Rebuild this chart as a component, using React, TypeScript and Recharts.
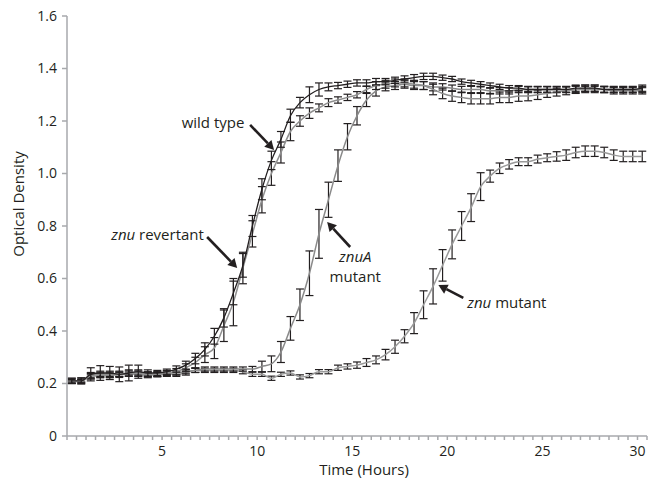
import React from 'react';
import { LineChart, Line, XAxis, YAxis, ErrorBar, ReferenceLine, ReferenceDot } from 'recharts';

const times = [0.25, 0.75, 1.25, 1.75, 2.25, 2.75, 3.25, 3.75, 4.25, 4.75, 5.25, 5.75, 6.25, 6.75, 7.25, 7.75, 8.25, 8.75, 9.25, 9.75, 10.25, 10.75, 11.25, 11.75, 12.25, 12.75, 13.25, 13.75, 14.25, 14.75, 15.25, 15.75, 16.25, 16.75, 17.25, 17.75, 18.25, 18.75, 19.25, 19.75, 20.25, 20.75, 21.25, 21.75, 22.25, 22.75, 23.25, 23.75, 24.25, 24.75, 25.25, 25.75, 26.25, 26.75, 27.25, 27.75, 28.25, 28.75, 29.25, 29.75, 30.25];

const wildType = [0.21, 0.21, 0.235, 0.24, 0.24, 0.235, 0.24, 0.245, 0.24, 0.24, 0.245, 0.255, 0.27, 0.295, 0.33, 0.38, 0.45, 0.545, 0.65, 0.8, 0.94, 1.05, 1.13, 1.22, 1.27, 1.3, 1.32, 1.33, 1.335, 1.34, 1.345, 1.345, 1.35, 1.35, 1.355, 1.36, 1.365, 1.37, 1.37, 1.365, 1.36, 1.35, 1.345, 1.34, 1.335, 1.33, 1.325, 1.325, 1.32, 1.32, 1.32, 1.32, 1.32, 1.325, 1.325, 1.325, 1.32, 1.32, 1.32, 1.32, 1.325];
const wildTypeErr = [0.01, 0.012, 0.025, 0.028, 0.025, 0.028, 0.03, 0.025, 0.012, 0.01, 0.01, 0.012, 0.015, 0.02, 0.025, 0.03, 0.035, 0.045, 0.045, 0.04, 0.04, 0.035, 0.03, 0.025, 0.02, 0.03, 0.025, 0.015, 0.012, 0.012, 0.012, 0.012, 0.012, 0.012, 0.012, 0.012, 0.012, 0.012, 0.012, 0.01, 0.01, 0.01, 0.01, 0.01, 0.01, 0.01, 0.01, 0.01, 0.01, 0.01, 0.01, 0.01, 0.01, 0.012, 0.012, 0.012, 0.01, 0.01, 0.01, 0.01, 0.012];

const revertant = [0.21, 0.21, 0.23, 0.235, 0.235, 0.235, 0.24, 0.24, 0.235, 0.235, 0.24, 0.245, 0.26, 0.28, 0.31, 0.335, 0.42, 0.51, 0.64, 0.77, 0.9, 1.0, 1.08, 1.16, 1.2, 1.23, 1.25, 1.27, 1.28, 1.29, 1.3, 1.32, 1.335, 1.34, 1.345, 1.345, 1.34, 1.335, 1.32, 1.305, 1.295, 1.29, 1.285, 1.285, 1.285, 1.29, 1.29, 1.295, 1.295, 1.3, 1.305, 1.31, 1.315, 1.32, 1.32, 1.32, 1.32, 1.315, 1.315, 1.315, 1.315];
const revertantErr = [0.01, 0.01, 0.012, 0.012, 0.012, 0.012, 0.012, 0.012, 0.01, 0.01, 0.01, 0.012, 0.015, 0.02, 0.03, 0.04, 0.06, 0.09, 0.06, 0.05, 0.05, 0.045, 0.04, 0.035, 0.02, 0.02, 0.015, 0.015, 0.012, 0.012, 0.012, 0.012, 0.015, 0.015, 0.015, 0.015, 0.015, 0.015, 0.02, 0.02, 0.02, 0.02, 0.02, 0.02, 0.02, 0.02, 0.02, 0.02, 0.018, 0.018, 0.015, 0.015, 0.015, 0.015, 0.012, 0.012, 0.012, 0.012, 0.012, 0.012, 0.012];

const znuAMutant = [0.21, 0.21, 0.23, 0.235, 0.235, 0.235, 0.24, 0.24, 0.235, 0.235, 0.24, 0.24, 0.245, 0.25, 0.255, 0.255, 0.255, 0.255, 0.255, 0.255, 0.265, 0.275, 0.32, 0.41, 0.5, 0.62, 0.77, 0.9, 1.03, 1.14, 1.22, 1.28, 1.315, 1.33, 1.335, 1.34, 1.335, 1.335, 1.33, 1.33, 1.325, 1.32, 1.32, 1.32, 1.315, 1.315, 1.315, 1.32, 1.32, 1.32, 1.32, 1.32, 1.32, 1.32, 1.325, 1.325, 1.32, 1.32, 1.32, 1.32, 1.32];
const znuAMutantErr = [0.005, 0.005, 0.008, 0.008, 0.008, 0.008, 0.008, 0.008, 0.008, 0.008, 0.008, 0.008, 0.008, 0.008, 0.008, 0.008, 0.008, 0.008, 0.008, 0.01, 0.02, 0.03, 0.04, 0.045, 0.06, 0.085, 0.093, 0.067, 0.06, 0.05, 0.035, 0.025, 0.02, 0.015, 0.015, 0.015, 0.015, 0.015, 0.015, 0.012, 0.012, 0.012, 0.012, 0.012, 0.012, 0.012, 0.012, 0.012, 0.012, 0.012, 0.012, 0.012, 0.012, 0.012, 0.012, 0.012, 0.012, 0.012, 0.012, 0.012, 0.012];

const znuMutant = [0.205, 0.21, 0.225, 0.23, 0.23, 0.235, 0.235, 0.235, 0.23, 0.235, 0.235, 0.235, 0.24, 0.25, 0.25, 0.25, 0.25, 0.25, 0.245, 0.235, 0.235, 0.22, 0.235, 0.24, 0.225, 0.23, 0.245, 0.245, 0.26, 0.265, 0.27, 0.28, 0.29, 0.31, 0.34, 0.38, 0.43, 0.5, 0.57, 0.65, 0.73, 0.8, 0.87, 0.95, 0.99, 1.02, 1.035, 1.045, 1.045, 1.055, 1.06, 1.065, 1.07, 1.08, 1.085, 1.085, 1.08, 1.07, 1.065, 1.065, 1.065];
const znuMutantErr = [0.005, 0.005, 0.008, 0.008, 0.008, 0.008, 0.008, 0.008, 0.008, 0.008, 0.008, 0.008, 0.008, 0.008, 0.008, 0.008, 0.008, 0.008, 0.008, 0.008, 0.008, 0.008, 0.008, 0.008, 0.008, 0.008, 0.008, 0.008, 0.01, 0.01, 0.012, 0.015, 0.015, 0.02, 0.025, 0.025, 0.04, 0.053, 0.067, 0.06, 0.055, 0.055, 0.053, 0.053, 0.023, 0.02, 0.018, 0.015, 0.015, 0.015, 0.015, 0.018, 0.02, 0.02, 0.02, 0.02, 0.02, 0.02, 0.02, 0.02, 0.02];

const yTicks = [0, 0.2, 0.4, 0.6, 0.8, 1.0, 1.2, 1.4, 1.6];
const xMajorLabels = [5, 10, 15, 20, 25, 30];
const xTicks = Array.from({ length: 62 }, (_, i) => i * 0.5);

const data = times.map((t, i) => ({
  t,
  wt: wildType[i], wtErr: wildTypeErr[i],
  rev: revertant[i], revErr: revertantErr[i],
  znuA: znuAMutant[i], znuAErr: znuAMutantErr[i],
  znu: znuMutant[i], znuErr: znuMutantErr[i],
}));

const FONT = '"Open Sans", "DejaVu Sans", sans-serif';
const TEXT = '#231f20';
const AXIS = '#a7a9ac';

const arrowShape = (props: any) => {
  const { x1, y1, x2, y2 } = props;
  const ang = Math.atan2(y2 - y1, x2 - x1);
  const L = 9, W = 5;
  const bx = x2 - L * Math.cos(ang), by = y2 - L * Math.sin(ang);
  const px = -Math.sin(ang), py = Math.cos(ang);
  return (
    <g>
      <line x1={x1} y1={y1} x2={bx} y2={by} stroke={TEXT} strokeWidth={2.6} />
      <polygon points={`${x2},${y2} ${bx + px * W},${by + py * W} ${bx - px * W},${by - py * W}`} fill={TEXT} />
    </g>
  );
};

const textShape = (parts: { s: string; italic?: boolean }[], anchor: string) => (props: any) => (
  <text x={props.cx} y={props.cy} dy="0.35em" textAnchor={anchor} fontFamily={FONT} fontSize={15} fill={TEXT}>
    {parts.map((p, i) => (
      <tspan key={i} fontStyle={p.italic ? 'italic' : 'normal'}>{p.s}</tspan>
    ))}
  </text>
);

const annotations = [
  { t: 7.68, v: 1.195, parts: [{ s: 'wild type' }], anchor: 'middle' },
  { t: 7.2, v: 0.766, parts: [{ s: 'znu', italic: true }, { s: ' revertant' }], anchor: 'end' },
  { t: 15.16, v: 0.682, parts: [{ s: 'znuA', italic: true }], anchor: 'middle' },
  { t: 15.16, v: 0.606, parts: [{ s: 'mutant' }], anchor: 'middle' },
  { t: 21.05, v: 0.507, parts: [{ s: 'znu', italic: true }, { s: ' mutant' }], anchor: 'start' },
];

const arrows = [
  { from: { x: 9.63, y: 1.185 }, to: { x: 10.89, y: 1.09 } },
  { from: { x: 7.37, y: 0.758 }, to: { x: 8.95, y: 0.64 } },
  { from: { x: 14.89, y: 0.72 }, to: { x: 13.68, y: 0.815 } },
  { from: { x: 20.84, y: 0.526 }, to: { x: 19.53, y: 0.575 } },
];

const errStyle = { stroke: '#231f20', strokeWidth: 1.2 };

export default function App() {
  return (
    <div style={{ position: 'absolute', left: 0, top: 0, width: 648, height: 481, background: '#fff' }}>
      <LineChart width={648} height={481} data={data} margin={{ top: 16, right: 1, bottom: 0, left: 0 }}>
        <XAxis
          dataKey="t"
          type="number"
          domain={[0, 30.5]}
          ticks={xTicks}
          interval={0}
          tickFormatter={(v: number) => (xMajorLabels.includes(v) ? String(v) : '')}
          height={45}
          tickSize={4}
          tickMargin={6}
          stroke={AXIS}
          strokeWidth={1.5}
          tick={{ fill: TEXT, fontSize: 14, fontFamily: FONT }}
          label={(p: any) => {
            const vb = p.viewBox;
            return (
              <text x={vb.x + vb.width / 2 + 7} y={475} textAnchor="middle" fontFamily={FONT} fontSize={15} fill={TEXT}>
                Time (Hours)
              </text>
            );
          }}
        />
        <YAxis
          type="number"
          domain={[0, 1.6]}
          ticks={yTicks}
          interval={0}
          width={67}
          tickSize={5}
          tickMargin={5}
          stroke={AXIS}
          strokeWidth={1.5}
          tickFormatter={(v: number) => (v === 0 ? '0' : v.toFixed(1))}
          tick={{ fill: TEXT, fontSize: 14, fontFamily: FONT }}
          label={(p: any) => {
            const vb = p.viewBox;
            const cx = 18;
            const cy = vb.y + vb.height / 2 - 22;
            return (
              <text x={cx} y={cy} transform={`rotate(-90 ${cx} ${cy})`} textAnchor="middle" dominantBaseline="central" fontFamily={FONT} fontSize={15} fill={TEXT}>
                Optical Density
              </text>
            );
          }}
        />
        <Line type="monotone" dataKey="znu" stroke="#9a9a9a" strokeWidth={1.5} dot={false} isAnimationActive={false}>
          <ErrorBar dataKey="znuErr" width={4} {...errStyle} isAnimationActive={false} />
        </Line>
        <Line type="monotone" dataKey="znuA" stroke="#8a8a8a" strokeWidth={1.5} dot={false} isAnimationActive={false}>
          <ErrorBar dataKey="znuAErr" width={4} {...errStyle} isAnimationActive={false} />
        </Line>
        <Line type="monotone" dataKey="rev" stroke="#8f8f8f" strokeWidth={1.5} dot={false} isAnimationActive={false}>
          <ErrorBar dataKey="revErr" width={4} {...errStyle} isAnimationActive={false} />
        </Line>
        <Line type="monotone" dataKey="wt" stroke="#231f20" strokeWidth={1.3} dot={false} isAnimationActive={false}>
          <ErrorBar dataKey="wtErr" width={4} {...errStyle} isAnimationActive={false} />
        </Line>
        {arrows.map((a, i) => (
          <ReferenceLine key={'a' + i} segment={[a.from, a.to]} shape={arrowShape} ifOverflow="visible" />
        ))}
        {annotations.map((a, i) => (
          <ReferenceDot key={'t' + i} x={a.t} y={a.v} r={0} shape={textShape(a.parts, a.anchor)} ifOverflow="visible" />
        ))}
      </LineChart>
    </div>
  );
}
